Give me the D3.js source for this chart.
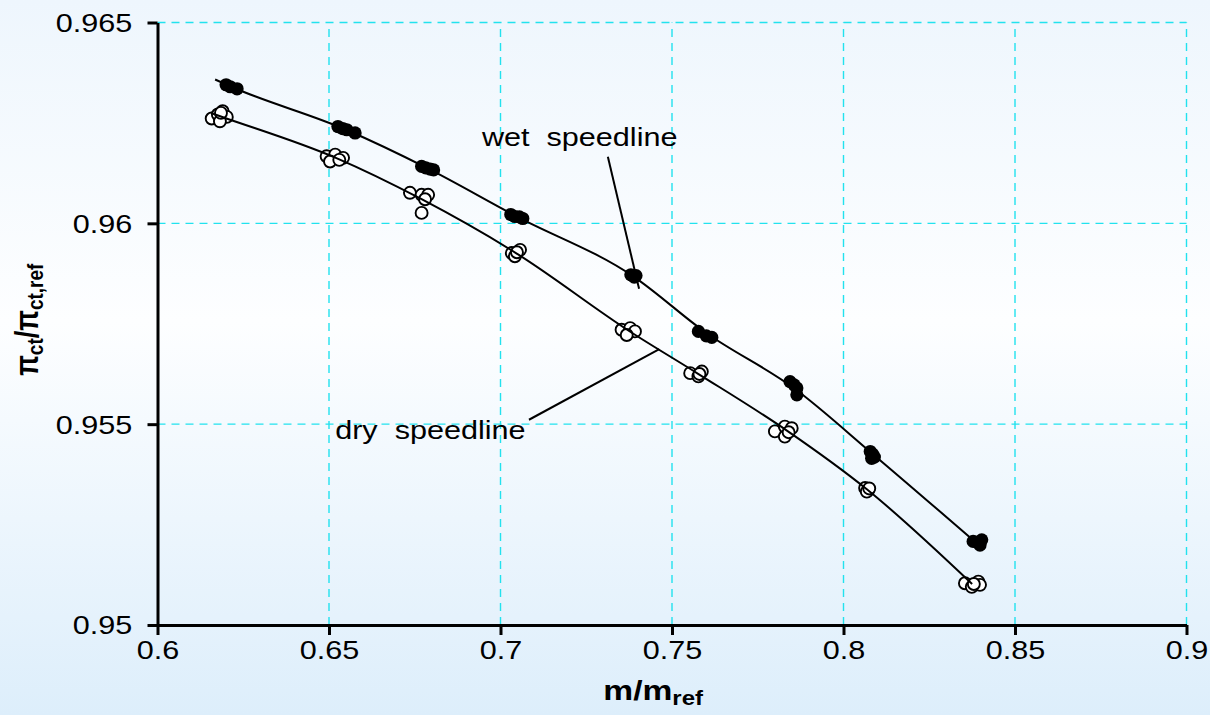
<!DOCTYPE html>
<html>
<head>
<meta charset="utf-8">
<script src="https://cdn.jsdelivr.net/npm/d3@7"></script>
<style>
	html, body { margin: 0; padding: 0; }
	svg { display: block; }
	text { font-family: "Liberation Sans", Arial, sans-serif; fill: #000; }
</style>
</head>
<body>
<div id="chart"></div>
<script>
"use strict";

var wetX = [0.6200, 0.6212, 0.6232,
	0.6526, 0.6540, 0.6552, 0.6576,
	0.6770, 0.6782, 0.6795, 0.6805,
	0.7030, 0.7042, 0.7055, 0.7065,
	0.7380, 0.7390, 0.7395,
	0.7577, 0.7600, 0.7616,
	0.7844, 0.7856, 0.7864, 0.7864,
	0.8078, 0.8085, 0.8090, 0.8082,
	0.8378, 0.8398, 0.8403, 0.8392];
var wetY = [0.96345, 0.96340, 0.96335,
	0.96241, 0.96236, 0.96233, 0.96225,
	0.96142, 0.96138, 0.96135, 0.96133,
	0.96022, 0.96017, 0.96016, 0.96012,
	0.95872, 0.95866, 0.95870,
	0.95731, 0.95720, 0.95716,
	0.95606, 0.95598, 0.95590, 0.95573,
	0.95432, 0.95425, 0.95418, 0.95415,
	0.95208, 0.95199, 0.95212, 0.95205];

var dryX = [0.6158, 0.6176, 0.6190, 0.6202, 0.6182, 0.6185,
	0.6493, 0.6518, 0.6541, 0.6503, 0.6530,
	0.6736, 0.6770, 0.6789, 0.6770, 0.6780,
	0.7033, 0.7057, 0.7042, 0.7048,
	0.7353, 0.7378, 0.7392, 0.7368,
	0.7553, 0.7577, 0.7587, 0.7580,
	0.7800, 0.7829, 0.7849, 0.7829, 0.7840,
	0.8063, 0.8072, 0.8068, 0.8075,
	0.8354, 0.8374, 0.8393, 0.8398, 0.8380];
var dryY = [0.96261, 0.96271, 0.96279, 0.96265, 0.96254, 0.96275,
	0.96167, 0.96171, 0.96163, 0.96154, 0.96158,
	0.96076, 0.96071, 0.96071, 0.96026, 0.96060,
	0.95926, 0.95934, 0.95918, 0.95928,
	0.95735, 0.95739, 0.95731, 0.95722,
	0.95627, 0.95619, 0.95631, 0.95625,
	0.95482, 0.95494, 0.95490, 0.95469, 0.95480,
	0.95341, 0.95336, 0.95332, 0.95340,
	0.95104, 0.95095, 0.95108, 0.95100, 0.95102];

// speedline curves (fit drawn through the clusters)
var wetLineX = [0.6168, 0.6215, 0.6550, 0.6785, 0.7045, 0.7387, 0.7600, 0.7855, 0.8085, 0.8385];
var wetLineY = [0.96358, 0.96340, 0.96233, 0.96138, 0.96018, 0.95868, 0.95727, 0.95590, 0.95426, 0.95206];
var dryLineX = [0.6158, 0.6195, 0.6520, 0.6770, 0.7045, 0.7375, 0.7575, 0.7835, 0.8068, 0.8375];
var dryLineY = [0.96274, 0.96263, 0.96163, 0.96060, 0.95926, 0.95732, 0.95626, 0.95484, 0.95338, 0.95102];

var xTicks = [0.6, 0.65, 0.7, 0.75, 0.8, 0.85, 0.9];
var yTicks = [0.95, 0.955, 0.96, 0.965];

// annotation labels and their leader lines, in data units
var labelText = ["wet  speedline", "dry  speedline"];
var labelX = [0.7516, 0.6518];
var labelY = [0.96193, 0.95463];
var labelAnchor = ["end", "start"];
var leaderX1 = [0.7313, 0.7083];
var leaderY1 = [0.96166, 0.95511];
var leaderX2 = [0.7404, 0.7463];
var leaderY2 = [0.95837, 0.95687];

var width = 1210, height = 715;
var margin = {left: 157.5, right: 23.5, top: 22.5, bottom: 90};
var stretch = "scale(1.2,1)";

var svg = d3.select("#chart").append("svg")
	.attr("width", width)
	.attr("height", height);

var grad = svg.append("defs").append("linearGradient")
	.attr("id", "bg")
	.attr("x1", 0).attr("y1", 0)
	.attr("x2", 0).attr("y2", 1);
grad.append("stop").attr("offset", "0%").attr("stop-color", "#eef6fd");
grad.append("stop").attr("offset", "45%").attr("stop-color", "#fdfeff");
grad.append("stop").attr("offset", "100%").attr("stop-color", "#ddeefb");

svg.append("rect")
	.attr("width", width)
	.attr("height", height)
	.attr("fill", "url(#bg)");

var x = d3.scaleLinear().domain([0.6, 0.9]).range([margin.left, width - margin.right]);
var y = d3.scaleLinear().domain([0.95, 0.965]).range([height - margin.bottom, margin.top]);

// dashed cyan grid
var grid = svg.append("g");
grid.selectAll("line.vx")
	.data(xTicks.slice(1))
	.enter().append("line")
	.attr("x1", function(d) { return x(d); })
	.attr("x2", function(d) { return x(d); })
	.attr("y1", y(0.95))
	.attr("y2", y(0.965));
grid.selectAll("line.hy")
	.data(yTicks.slice(1))
	.enter().append("line")
	.attr("x1", x(0.6))
	.attr("x2", x(0.9))
	.attr("y1", function(d) { return y(d); })
	.attr("y2", function(d) { return y(d); });
grid.selectAll("line")
	.attr("stroke", "#22e2ee")
	.attr("stroke-width", 1.4)
	.attr("stroke-dasharray", "8,6");

// axes
var xAxis = svg.append("g")
	.attr("transform", "translate(0," + y(0.95) + ")")
	.call(d3.axisBottom(x).tickValues(xTicks).tickSize(10).tickSizeOuter(0)
		.tickFormat(function(d) { return String(+d.toFixed(2)); }));
var yAxis = svg.append("g")
	.attr("transform", "translate(" + x(0.6) + ",0)")
	.call(d3.axisLeft(y).tickValues(yTicks).tickSize(10).tickSizeOuter(0)
		.tickFormat(function(d) { return String(+d.toFixed(3)); }));

[xAxis, yAxis].forEach(function(ax) {
	ax.select(".domain").attr("stroke", "#000").attr("stroke-width", 3);
	ax.selectAll(".tick line").attr("stroke", "#000").attr("stroke-width", 3);
	ax.selectAll(".tick text")
		.style("font-family", "'Liberation Sans', Arial, sans-serif")
		.attr("font-size", 25.5)
		.attr("fill", "#000")
		.attr("transform", stretch);
});
xAxis.selectAll(".tick text").attr("y", 34).attr("dy", 0);
yAxis.selectAll(".tick text").attr("x", -21).attr("dy", "0.35em");

// speedline curves
var line = d3.line()
	.x(function(d) { return x(d[0]); })
	.y(function(d) { return y(d[1]); })
	.curve(d3.curveMonotoneX);

// open markers, dry
svg.append("g").selectAll("circle")
	.data(d3.zip(dryX, dryY))
	.enter().append("circle")
	.attr("cx", function(d) { return x(d[0]); })
	.attr("cy", function(d) { return y(d[1]); })
	.attr("r", 6)
	.attr("fill", "#fff")
	.attr("stroke", "#000")
	.attr("stroke-width", 1.9);

// filled markers, wet
svg.append("g").selectAll("circle")
	.data(d3.zip(wetX, wetY))
	.enter().append("circle")
	.attr("cx", function(d) { return x(d[0]); })
	.attr("cy", function(d) { return y(d[1]); })
	.attr("r", 6.6)
	.attr("fill", "#000");

svg.append("path")
	.datum(d3.zip(wetLineX, wetLineY))
	.attr("d", line)
	.attr("fill", "none")
	.attr("stroke", "#000")
	.attr("stroke-width", 2);
svg.append("path")
	.datum(d3.zip(dryLineX, dryLineY))
	.attr("d", line)
	.attr("fill", "none")
	.attr("stroke", "#000")
	.attr("stroke-width", 2);

// annotations
labelText.forEach(function(t, i) {
	svg.append("line")
		.attr("x1", x(leaderX1[i])).attr("y1", y(leaderY1[i]))
		.attr("x2", x(leaderX2[i])).attr("y2", y(leaderY2[i]))
		.attr("stroke", "#000")
		.attr("stroke-width", 2);
	svg.append("text")
		.attr("transform", "translate(" + x(labelX[i]) + "," + y(labelY[i]) + ") " + stretch)
		.attr("text-anchor", labelAnchor[i])
		.attr("font-size", 25.5)
		.style("white-space", "pre")
		.text(t);
});

// axis titles
var xTitle = svg.append("text")
	.attr("transform", "translate(" + x(0.7445) + ",700) " + stretch)
	.attr("text-anchor", "middle")
	.attr("font-size", 28)
	.attr("font-weight", "bold");
xTitle.append("tspan").text("m/m");
xTitle.append("tspan").attr("font-size", 20).attr("dy", 5).text("ref");

var yTitle = svg.append("text")
	.attr("transform", "translate(38," + y(0.9576) + ") " + stretch + " rotate(-90)")
	.attr("text-anchor", "middle")
	.attr("font-size", 27)
	.attr("font-weight", "bold");
yTitle.append("tspan").text("\u03c0");
yTitle.append("tspan").attr("font-size", 19).attr("dy", 4).text("ct");
yTitle.append("tspan").attr("dy", -4).text("/\u03c0");
yTitle.append("tspan").attr("font-size", 19).attr("dy", 4).text("ct,ref");
</script>
</body>
</html>
